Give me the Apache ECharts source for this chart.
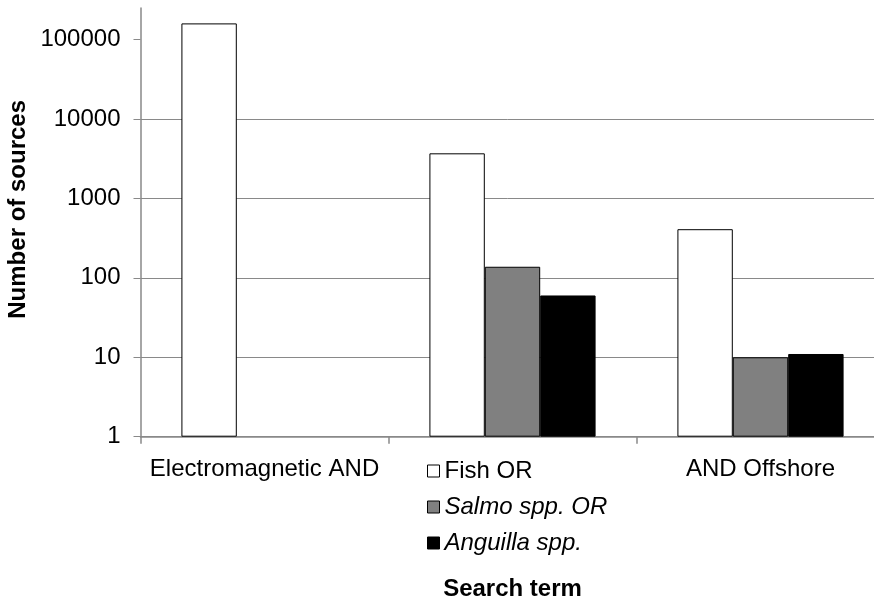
<!DOCTYPE html>
<html>
<head>
<meta charset="utf-8">
<script src="https://cdn.jsdelivr.net/npm/echarts@6/dist/echarts.min.js"></script>
<style>
html,body{margin:0;padding:0;background:#fff;}
#chart{width:874px;height:603px;}
</style>
</head>
<body>
<div id="chart"></div>
<script>
var categories = ['Electromagnetic AND', '', 'AND Offshore'];
var seriesNames = ['Fish OR', 'Salmo spp. OR', 'Anguilla spp.'];
var fishValues = [160000, 3700, 410];
var salmoValues = [null, 138, 10];
var anguillaValues = [null, 60, 11];
var yTickValues = [1, 10, 100, 1000, 10000, 100000];
var yAxisTitle = 'Number of sources';
var xAxisTitle = 'Search term';

var FONT = '"Liberation Sans", Arial, sans-serif';
var GRID_GREY = '#898989';

var chart = echarts.init(document.getElementById('chart'), null, {renderer: 'canvas'});

function barSeries(name, data, color) {
  return {
    name: name,
    type: 'bar',
    data: data,
    barGap: '0%',
    barCategoryGap: '33%',
    itemStyle: {color: color, borderColor: '#000', borderWidth: 1},
    emphasis: {disabled: true}
  };
}

chart.setOption({
  animation: false,
  backgroundColor: '#fff',
  textStyle: {fontFamily: FONT},
  grid: {left: 140.5, top: 8, width: 744, height: 428.7, outerBoundsMode: 'none', containLabel: false},
  legend: {
    orient: 'vertical',
    left: 422,
    top: 454,
    itemWidth: 12,
    itemHeight: 12,
    itemGap: 12,
    icon: 'rect',
    itemStyle: {borderColor: '#000', borderWidth: 1},
    textStyle: {fontFamily: FONT, fontSize: 24, color: '#000', lineHeight: 24,
      rich: {i: {fontStyle: 'italic', fontFamily: FONT, fontSize: 24, color: '#000'}}},
    formatter: function (name) {
      return name === seriesNames[0] ? name : '{i|' + name + '}';
    },
    data: seriesNames
  },
  xAxis: {
    type: 'category',
    data: categories,
    name: xAxisTitle,
    nameLocation: 'middle',
    nameGap: 141,
    nameMoveOverlap: false,
    nameTextStyle: {fontFamily: FONT, fontSize: 24, fontWeight: 'bold', color: '#000'},
    axisLine: {lineStyle: {color: GRID_GREY, width: 1.5}},
    axisTick: {show: true, length: 7, lineStyle: {color: GRID_GREY, width: 1.5}},
    axisLabel: {fontFamily: FONT, fontSize: 24, color: '#000', margin: 21, interval: 0}
  },
  yAxis: {
    type: 'log',
    logBase: 10,
    min: 1,
    max: 250000,
    name: yAxisTitle,
    nameLocation: 'middle',
    nameRotate: 90,
    nameGap: 110,
    nameMoveOverlap: false,
    nameTextStyle: {fontFamily: FONT, fontSize: 24, fontWeight: 'bold', color: '#000', padding: [0, 0, 0, 26]},
    axisLine: {show: true, lineStyle: {color: GRID_GREY, width: 1.5}},
    axisTick: {show: true, length: 7, lineStyle: {color: GRID_GREY, width: 1}, customValues: yTickValues},
    axisLabel: {fontFamily: FONT, fontSize: 24, color: '#000', margin: 20, customValues: yTickValues,
      formatter: function (v) { return String(Math.round(v)); }},
    splitLine: {show: true, showMaxLine: false, lineStyle: {color: GRID_GREY, width: 1}}
  },
  series: [
    barSeries(seriesNames[0], fishValues, '#ffffff'),
    barSeries(seriesNames[1], salmoValues, '#808080'),
    barSeries(seriesNames[2], anguillaValues, '#000000')
  ]
});
</script>
</body>
</html>
